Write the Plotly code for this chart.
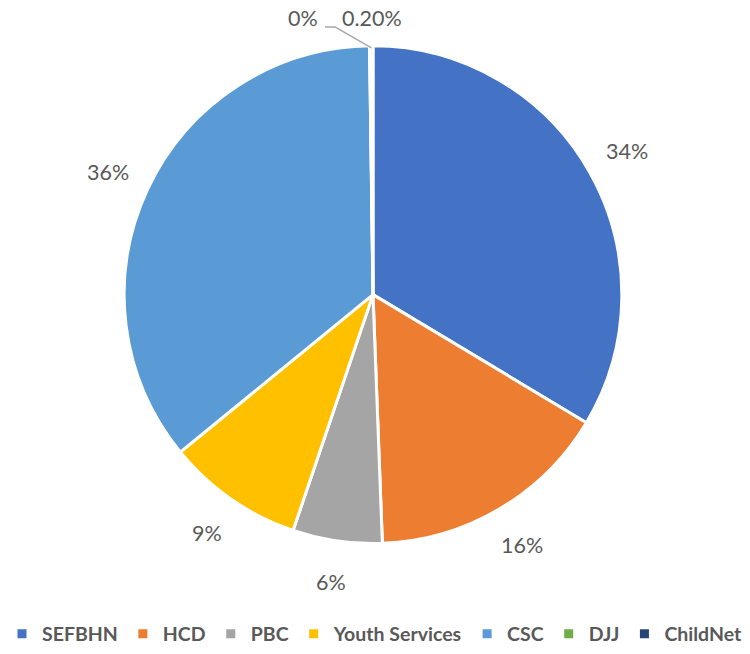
import math
import plotly.graph_objects as go

# Funding share by agency
agencies = ["SEFBHN", "HCD", "PBC", "Youth Services", "CSC", "DJJ", "ChildNet"]
shares = [33.6, 15.8, 5.8, 8.9, 35.68, 0.02, 0.2]
colors = ["#4472C4", "#ED7D31", "#A5A5A5", "#FFC000", "#5B9BD5", "#70AD47", "#264478"]
decimals = [0, 0, 0, 0, 0, 0, 2]

W, H = 750, 654
CX, CY, R = 373, 296, 250  # pie centre / radius in pixels

fig = go.Figure(go.Pie(
    labels=agencies,
    values=shares,
    sort=False,
    direction="clockwise",
    rotation=0,
    marker=dict(colors=colors, line=dict(color="white", width=3)),
    textinfo="none",
    hoverinfo="label+percent",
    domain=dict(x=[(CX - R) / W, (CX + R) / W], y=[1 - (CY + R) / H, 1 - (CY - R) / H]),
))

total = sum(shares)
label_font = dict(family="Lato, Calibri, sans-serif", size=21.5, color="#595959")


def to_paper(px, py):
    return px / W, 1 - py / H


def polar(bearing_deg, r):
    a = math.radians(bearing_deg)
    return CX + r * math.sin(a), CY - r * math.cos(a)


annotations = []
shapes = []
cum = 0.0
mids = []
for v in shares:
    mids.append((cum + v / 2) / total * 360)
    cum += v

texts = [f"{v / total * 100:.{d}f}%" for v, d in zip(shares, decimals)]

# regular outside labels for the larger slices
for i in range(5):
    px, py = polar(mids[i], 292)
    x, y = to_paper(px, py)
    annotations.append(dict(x=x, y=y, xref="paper", yref="paper", text=texts[i],
                            showarrow=False, font=label_font,
                            xanchor="center", yanchor="middle"))

# the two tiny slices near 12 o'clock are labelled above the pie
ex, ey = polar(mids[6], R - 2)
x, y = to_paper(320, 18)
annotations.append(dict(x=x, y=y, xref="paper", yref="paper", text=texts[5],
                        showarrow=False, font=label_font, xanchor="right", yanchor="middle"))
x, y = to_paper(340, 18)
annotations.append(dict(x=x, y=y, xref="paper", yref="paper", text=texts[6],
                        showarrow=False, font=label_font, xanchor="left", yanchor="middle"))
p0 = to_paper(325, 27)
p1 = to_paper(335, 27)
p2 = to_paper(ex, ey)
shapes.append(dict(type="path", xref="paper", yref="paper",
                   path=f"M {p0[0]},{p0[1]} L {p1[0]},{p1[1]} L {p2[0]},{p2[1]}",
                   line=dict(color="#A6A6A6", width=1.5)))

fig.update_layout(
    width=W, height=H,
    margin=dict(l=0, r=0, t=0, b=0),
    paper_bgcolor="white",
    plot_bgcolor="white",
    annotations=annotations,
    shapes=shapes,
    showlegend=True,
    legend=dict(orientation="h", x=0.5, xanchor="center", y=1 - 637 / H, yanchor="middle",
                font=dict(family="Lato, Calibri, sans-serif", size=19.5, color="#595959", weight="bold"),
                itemwidth=30, tracegroupgap=0),
)

fig.write_html("out.html")
